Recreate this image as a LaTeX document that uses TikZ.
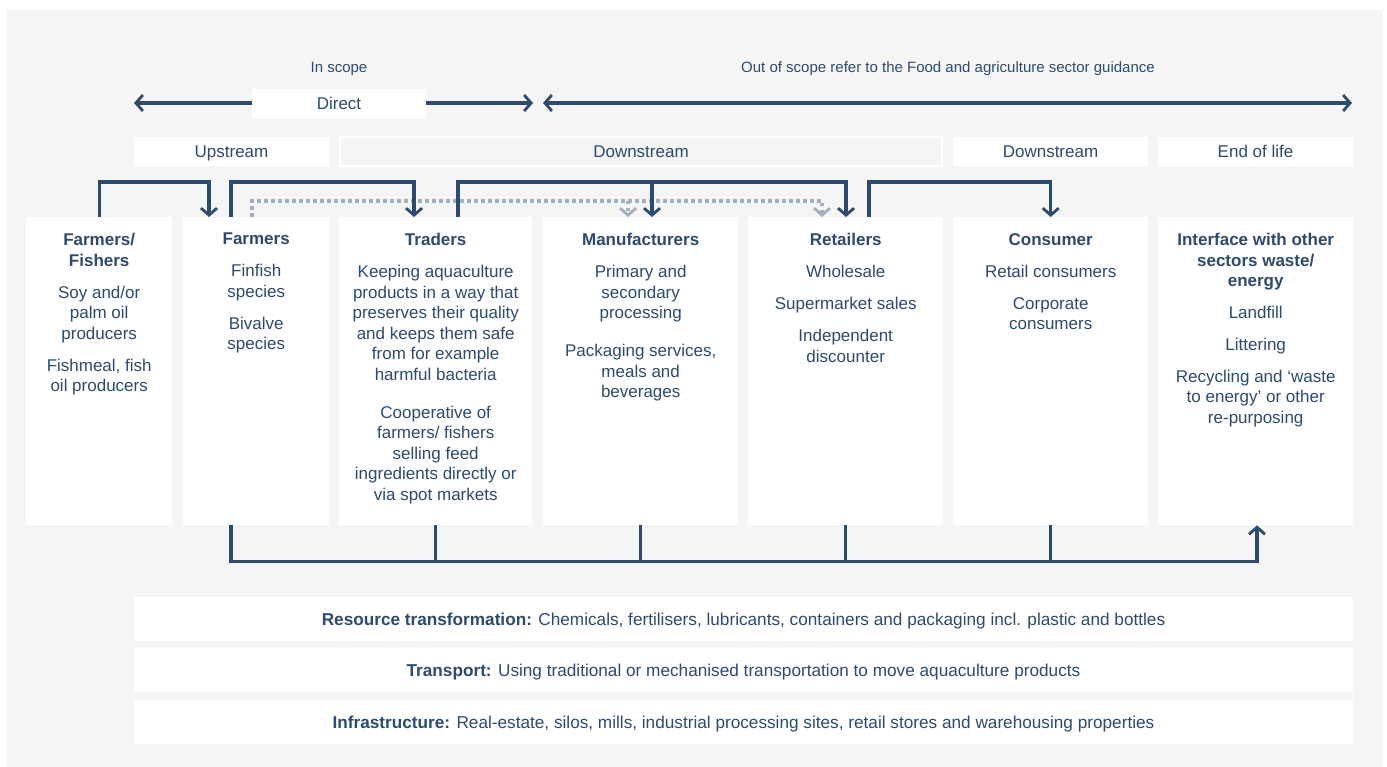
\documentclass[tikz,border=0pt]{standalone}
\usepackage{fontspec}
\setmainfont{Liberation Sans}
\usetikzlibrary{arrows.meta}
\definecolor{navy}{HTML}{2D4B6F}
\definecolor{dotgray}{HTML}{A3AFBD}
\definecolor{panel}{HTML}{F5F5F5}
\tikzset{
  barb/.tip={Straight Barb[length=7pt,width=16pt,line width=2.8pt]},
  flow/.style={draw=navy,line width=3.2pt,-barb},
  link/.style={draw=navy,line width=3.2pt},
  dotflow/.style={draw=dotgray,line width=3.2pt,dash pattern=on 3.5pt off 3.5pt,-barb},
  colbox/.style={fill=white,anchor=north west,minimum width=146pt,minimum height=308pt,inner sep=0pt},
  coltext/.style={text=navy,anchor=north,align=center,inner sep=0pt,
    font=\fontsize{17}{20.5}\selectfont},
  headbox/.style={fill=white,minimum height=29pt,inner sep=0pt,text=navy,
    text height=13pt,text depth=0pt,font=\fontsize{17}{20}\selectfont},
  barbox/.style={fill=white,minimum width=1219pt,minimum height=44pt,inner sep=0pt,text=navy,
    text height=13pt,text depth=0pt,font=\fontsize{17.2}{20}\selectfont},
  toplabel/.style={text=navy,text height=12pt,text depth=0pt,font=\fontsize{15}{18}\selectfont}
}
\begin{document}
\begin{tikzpicture}[x=1pt,y=-1pt]
\useasboundingbox (0,0) rectangle (1387,767);
\fill[panel] (7,10) rectangle (1383,767);

% scope arrows
\node[toplabel] (inscope) at (339,67) {In scope};
\node[toplabel] (outscope) at (948,67) {Out of scope refer to the Food and agriculture sector guidance};
\coordinate (inL) at (134,103);
\coordinate (inR) at (533,103);
\coordinate (outL) at (543,103);
\coordinate (outR) at (1352,103);
\draw[navy,line width=3.2pt,barb-barb] (inL) -- (inR);
\draw[navy,line width=3.2pt,barb-barb] (outL) -- (outR);
\node[headbox,minimum width=174pt] (direct) at (339,103.5) {Direct};

% stage headers
\node[headbox,minimum width=195pt] (hup) at (231.5,151.5) {Upstream};
\node[headbox,minimum width=602pt,fill=panel,draw=white,line width=2pt] (hdown) at (641,151.5) {Downstream};
\node[headbox,minimum width=195pt] (hdown2) at (1050.5,151.5) {Downstream};
\node[headbox,minimum width=195pt] (heol) at (1255.5,151.5) {End of life};

% columns
\node[colbox] (c1) at (26,217) {};
\node[colbox] (c2) at (183,217) {};
\node[colbox,minimum width=193pt] (c3) at (339,217) {};
\node[colbox,minimum width=195pt] (c4) at (543,217) {};
\node[colbox,minimum width=195pt] (c5) at (748,217) {};
\node[colbox,minimum width=195pt] (c6) at (953,217) {};
\node[colbox,minimum width=195pt] (c7) at (1158,217) {};

\node[coltext] (t1) at ([yshift=-16pt]c1.north) {\textbf{Farmers/}\\\textbf{Fishers}\\[11.5pt]
  Soy and/or\\palm oil\\producers\\[11.5pt]Fishmeal, fish\\oil producers};
\node[coltext] (t2) at ([yshift=-16pt]c2.north) {\textbf{Farmers}\\[11.5pt]
  Finfish\\species\\[11.5pt]Bivalve\\species};
\node[coltext] (t3) at ([yshift=-16pt]c3.north) {\textbf{Traders}\\[11.5pt]
  Keeping aquaculture\\products in a way that\\preserves their quality\\and keeps them safe\\from for example\\harmful bacteria\\[17.5pt]
  Cooperative of\\farmers/ fishers\\selling feed\\ingredients directly or\\via spot markets};
\node[coltext] (t4) at ([yshift=-16pt]c4.north) {\textbf{Manufacturers}\\[11.5pt]
  Primary and\\secondary\\processing\\[17.5pt]Packaging services,\\meals and\\beverages};
\node[coltext] (t5) at ([yshift=-16pt]c5.north) {\textbf{Retailers}\\[11.5pt]
  Wholesale\\[11.5pt]Supermarket sales\\[11.5pt]Independent\\discounter};
\node[coltext] (t6) at ([yshift=-16pt]c6.north) {\textbf{Consumer}\\[11.5pt]
  Retail consumers\\[11.5pt]Corporate\\consumers};
\node[coltext] (t7) at ([yshift=-16pt]c7.north) {\textbf{Interface with other}\\\textbf{sectors waste/}\\\textbf{energy}\\[11pt]
  Landfill\\[11.5pt]Littering\\[11.5pt]Recycling and `waste\\to energy' or other\\re-purposing};

% flows above the columns
\draw[dotflow] ([xshift=69pt]c2.north west) -- ++(0,-16) -| ([xshift=74pt]c5.north west);
\draw[dotflow] ([xshift=85pt,yshift=16pt]c4.north west) -- ([xshift=85pt]c4.north west);
\draw[flow] (c1.north) -- ++(0,-35) -| ([xshift=26pt]c2.north west);
\draw[flow] ([xshift=48pt]c2.north west) -- ++(0,-35) -| ([xshift=75pt]c3.north west);
\draw[flow] ([xshift=119pt]c3.north west) -- ++(0,-35) -| ([xshift=98pt]c5.north west);
\draw[flow] ([xshift=109pt,yshift=35pt]c4.north west) -- ([xshift=109pt]c4.north west);
\draw[flow] ([xshift=121pt]c5.north west) -- ++(0,-35) -| (c6.north);

% flows below the columns
\draw[flow] ([xshift=48pt]c2.south west) -- ++(0,36) -| ([xshift=99pt]c7.south west);
\foreach \c in {c3,c4,c5,c6}
  \draw[link] (\c.south) -- ++(0,36);

% cross-cutting activities
\node[barbox] (res) at (743.5,619) {\textbf{Resource transformation:} Chemicals, fertilisers, lubricants, containers and packaging incl. plastic and bottles};
\node[barbox] (trans) at (743.5,670) {\textbf{Transport:} Using traditional or mechanised transportation to move aquaculture products};
\node[barbox] (infra) at (743.5,722) {\textbf{Infrastructure:} Real-estate, silos, mills, industrial processing sites, retail stores and warehousing properties};
\end{tikzpicture}
\end{document}
